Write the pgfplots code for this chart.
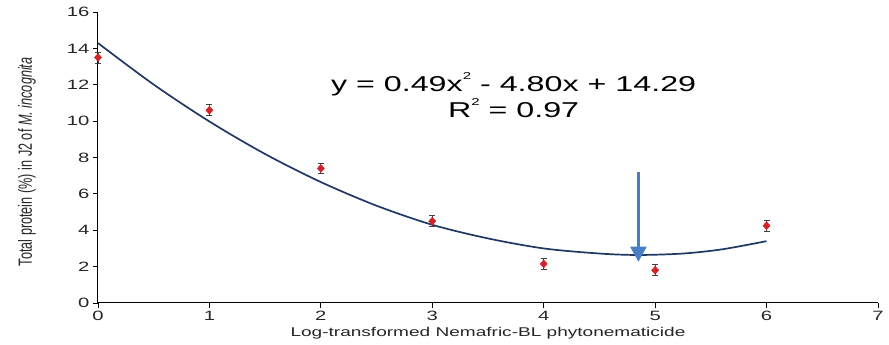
\documentclass[border=0pt]{standalone}
\usepackage{pgfplots}
\pgfplotsset{compat=1.18}
\usepackage{fontspec}
\setmainfont{Liberation Sans}
\usetikzlibrary{arrows.meta}
\definecolor{curvec}{RGB}{31,56,100}
\definecolor{ptred}{RGB}{210,35,42}
\definecolor{arrowc}{RGB}{74,126,194}
\newcommand{\sq}{\raisebox{0.55em}{\fontsize{10}{10}\selectfont 2}}
\begin{document}
\begin{tikzpicture}
\begin{axis}[
  scale only axis, width=780pt, height=291pt,
  xmin=0, xmax=7, ymin=0, ymax=16,
  axis lines*=left,
  xtick={0,...,7}, ytick={0,2,...,16},
  tick align=outside, major tick length=5pt,
  tick style={black, line width=0.8pt},
  axis line style={black, line width=1pt},
  /pgf/number format/assume math mode=true,
  xticklabel={\scalebox{1.5}[1]{\pgfmathprintnumber{\tick}}},
  yticklabel={\scalebox{1.5}[1]{\pgfmathprintnumber{\tick}}},
  tick label style={font=\fontsize{13.5}{16}\selectfont, text=black!85},
  xlabel={\scalebox{1.5}[1]{Log-transformed Nemafric-BL phytonematicide}},
  ylabel={\scalebox{1}[1.5]{Total protein (\%) in J2 of \textit{M. incognita}}},
  label style={font=\fontsize{12.7}{15}\selectfont, text=black!85},
  x label style={at={(axis description cs:0.5,0)}, anchor=center, yshift=-30pt},
  y label style={at={(axis description cs:-0.091,0.485)}, anchor=center},
  clip=false,
]
% fitted curve
\addplot[curvec, line width=1.7pt, smooth] coordinates {
(0,14.29) (0.5,12.01) (1,9.98) (1.5,8.19) (2,6.65) (2.5,5.35) (3,4.30) (3.5,3.55) (4,3.00) (4.5,2.72) (4.85,2.64) (5.25,2.72) (5.6,2.95) (6,3.40)};
% data with error bars
\addplot[only marks, mark=diamond*, mark size=4pt, mark options={ptred, draw=ptred, xscale=1.2},
  error bars/.cd, y dir=both, y explicit,
  error bar style={black!75, line width=0.8pt},
  error mark options={rotate=90, mark size=3pt, black!75, line width=0.8pt}]
coordinates {
(0,13.5) +- (0,0.3)
(1,10.6) +- (0,0.3)
(2,7.4) +- (0,0.3)
(3,4.5) +- (0,0.3)
(4,2.15) +- (0,0.3)
(5,1.8) +- (0,0.3)
(6,4.25) +- (0,0.3)
};
\draw[arrowc, line width=2.4pt, -{Triangle[length=15pt, width=16pt]}] (axis cs:4.85,7.2) -- (axis cs:4.85,2.27);
\node[align=center, font=\fontsize{21.5}{26}\selectfont, text=black] at (axis cs:3.73,11.43)
  {\scalebox{1.5}[1]{y = 0.49x\sq{} - 4.80x + 14.29}\\\scalebox{1.5}[1]{R\sq{} = 0.97}};
\end{axis}
\pgfresetboundingbox
\path (-98pt,-42pt) rectangle (791pt,303pt);
\end{tikzpicture}
\end{document}
